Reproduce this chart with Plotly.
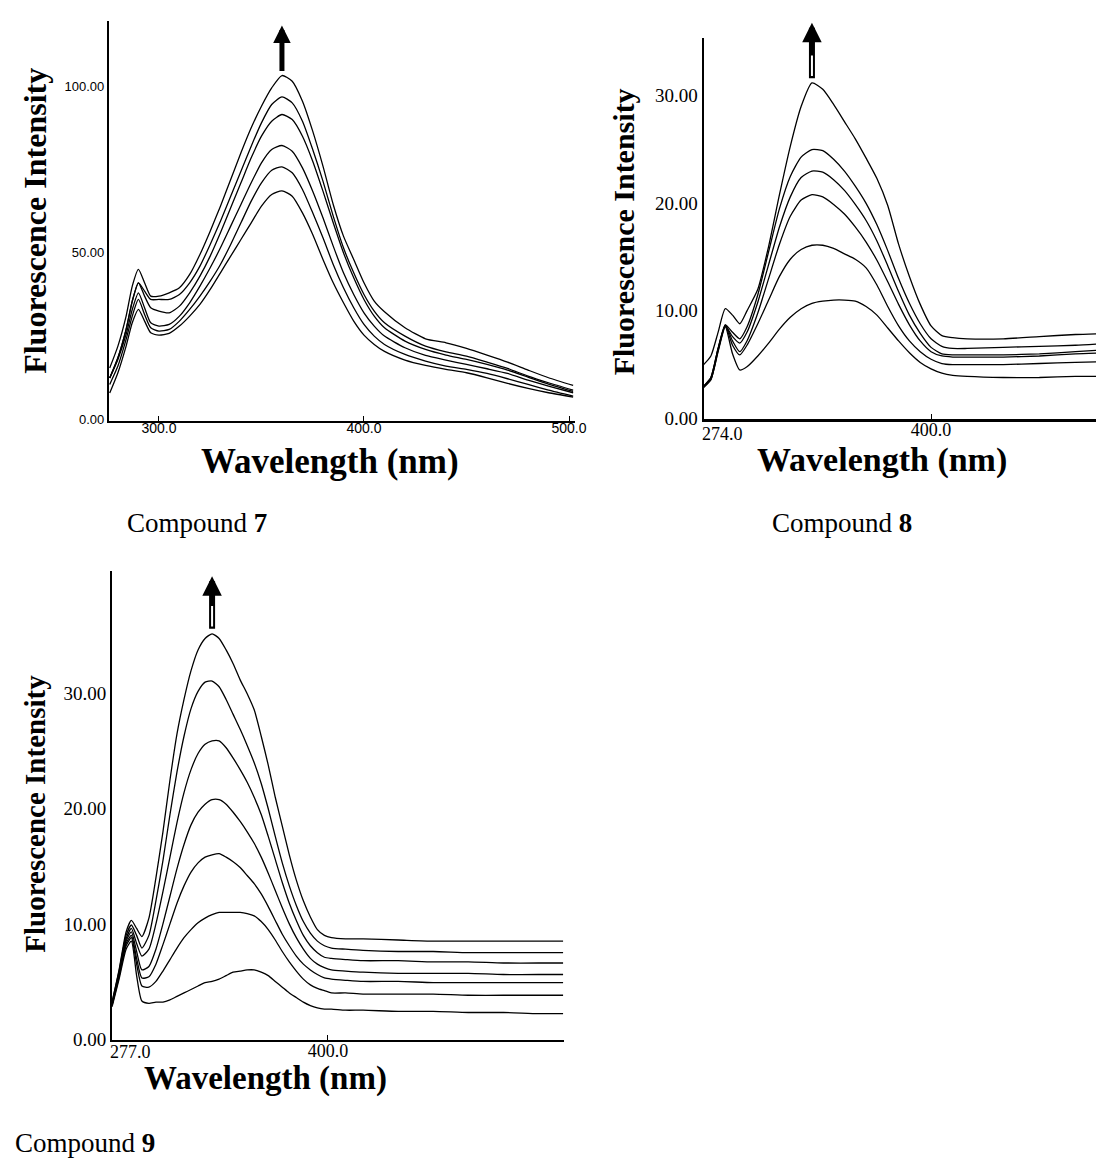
import plotly.graph_objects as go

W, H = 1104, 1158

# ---------------- data: Compound 7 ----------------
wl7 = [276, 280, 284, 287, 290, 293, 296, 300, 305, 310, 315, 320, 325, 330, 335, 340, 345, 350,
       355, 360, 365, 370, 375, 380, 385, 390, 395, 400, 405, 410, 420, 430, 440, 450, 460, 470,
       480, 490, 502]
c7_1 = [15.4, 22, 31, 40, 45, 41, 37, 37, 38, 39.5, 43.5, 49.5, 56.5, 64, 72, 80, 87.5, 94,
        99.5, 103.2, 101.5, 95.5, 86.5, 76, 64.5, 55, 48, 41, 35.5, 32.3, 27.5, 24.2, 23, 21.3,
        19.3, 17.2, 14.8, 12.5, 10.2]
c7_2 = [12.4, 18.5, 27, 35.5, 41, 38.5, 36, 36, 36, 37.5, 41, 46, 52.5, 59.5, 67, 74.5, 82, 89,
        94.5, 96.8, 95, 89.5, 81, 71.5, 61, 51.5, 44, 37.5, 32.5, 29, 25, 22, 20.3, 19, 17.2,
        15.3, 13, 11, 8.8]
c7_3 = [12.4, 18.5, 27, 35.5, 41, 37, 33.5, 32.5, 32, 34, 38, 43, 49, 56, 63.5, 71, 78.5, 85,
        89.5, 91.5, 90, 85, 77.5, 68.5, 59, 50, 42.5, 36, 31, 27.5, 23.5, 21, 19.3, 18, 16.5,
        14.8, 12.7, 10.6, 8.4]
c7_4 = [12.4, 18, 25.5, 33, 38, 33.5, 29, 28, 28.5, 31, 35, 40, 45.5, 51.5, 58, 64.5, 71, 77,
        81, 82.2, 80.5, 75.5, 68.5, 60.5, 52, 44, 37.5, 32, 28, 25, 21.5, 19.2, 17.8, 16.5, 15.2,
        13.8, 11.8, 10, 8.0]
c7_5 = [10.5, 16, 24, 31, 36, 31.5, 27.5, 26.5, 27, 29.5, 33, 37, 41.5, 46.5, 52.5, 59, 65.5,
        71, 74.8, 75.8, 74, 69, 62, 54.5, 46.5, 39.5, 33.5, 28.5, 25, 22.5, 19.5, 17.5, 16, 15,
        13.8, 12.2, 10.5, 8.8, 7.0]
c7_6 = [7.9, 14, 22, 29, 33, 29.5, 26, 25.3, 25.8, 28, 31, 34.5, 39, 44, 49, 54, 59, 64, 67.5,
        68.6, 67, 62, 55.5, 48, 41, 35, 29.5, 25.3, 22.5, 20.4, 17.8, 16.2, 15, 14, 12.5, 10.8,
        9.3, 8, 6.7]

# ---------------- data: Compound 8 ----------------
wl8 = [274, 278, 282, 286, 290, 294, 298, 304, 310, 316, 322, 328, 334, 340, 346, 352, 358, 364,
       370, 376, 382, 388, 394, 400, 406, 412, 420, 440, 460, 480, 500]
c8_1 = [5.0, 5.8, 8.0, 10.2, 9.6, 8.8, 10.0, 12.0, 16.0, 20.8, 25.3, 29.0, 31.2, 30.6, 29.2,
        27.6, 26.0, 24.2, 22.3, 19.8, 16.2, 13.2, 10.6, 8.6, 7.7, 7.5, 7.4, 7.4, 7.6, 7.8, 7.9]
c8_2 = [3.0, 3.8, 6.5, 8.7, 8.0, 7.4, 8.5, 11.5, 15.5, 19.5, 22.5, 24.3, 25.0, 24.9, 24.1, 23.0,
        21.6, 20.0, 18.0, 15.6, 13.0, 10.7, 8.8, 7.4, 6.7, 6.5, 6.5, 6.6, 6.7, 6.8, 7.0]
c8_3 = [2.9, 3.7, 6.4, 8.6, 7.6, 7.0, 8.0, 10.8, 14.3, 17.8, 20.6, 22.4, 23.0, 22.9, 22.2, 21.2,
        19.9, 18.4, 16.5, 14.2, 11.8, 9.6, 7.9, 6.6, 6.0, 5.9, 5.9, 5.9, 6.0, 6.2, 6.4]
c8_4 = [3.0, 3.8, 6.5, 8.7, 7.2, 6.2, 7.2, 9.8, 13.0, 16.2, 18.8, 20.3, 20.8, 20.6, 19.9, 19.0,
        17.8, 16.4, 14.7, 12.7, 10.6, 8.7, 7.2, 6.2, 5.8, 5.7, 5.7, 5.7, 5.8, 6.0, 6.1]
c8_5 = [2.9, 3.6, 6.3, 8.6, 6.8, 5.9, 6.8, 8.8, 11.0, 13.2, 14.8, 15.7, 16.1, 16.1, 15.8, 15.3,
        14.8, 14.0, 12.4, 10.4, 8.6, 7.2, 6.2, 5.5, 5.1, 5.0, 5.0, 5.0, 5.1, 5.2, 5.3]
c8_6 = [2.9, 3.6, 6.2, 8.5, 6.0, 4.5, 4.8, 5.8, 7.0, 8.3, 9.4, 10.2, 10.7, 10.9, 11.0, 11.0,
        10.9, 10.4, 9.6, 8.4, 7.2, 6.1, 5.2, 4.6, 4.2, 4.0, 3.9, 3.8, 3.8, 3.9, 3.9]

# ---------------- data: Compound 9 ----------------
wl9 = [277, 281, 285, 288, 291, 294, 298, 302, 306, 310, 314, 318, 322, 326, 330, 334, 338, 342,
       346, 350, 354, 358, 362, 366, 370, 374, 378, 382, 386, 390, 394, 398, 402, 410, 420, 440,
       460, 480, 500, 520, 534]
c9_1 = [3.2, 6.0, 9.3, 10.3, 9.6, 8.9, 10.5, 14.0, 18.0, 22.5, 26.5, 29.5, 32.0, 33.8, 34.8, 35.2,
        34.8, 33.8, 32.6, 31.2, 30.0, 28.6, 26.3, 23.8, 21.0, 18.5, 16.0, 13.8, 12.0, 10.6, 9.5,
        9.0, 8.8, 8.7, 8.7, 8.6, 8.5, 8.5, 8.5, 8.5, 8.5]
c9_2 = [3.2, 5.9, 9.0, 9.9, 9.0, 7.9, 9.0, 12.0, 15.5, 19.5, 23.2, 26.3, 28.7, 30.2, 31.0, 31.1,
        30.6, 29.5, 28.2, 26.9, 25.5, 24.0, 22.2, 20.0, 17.6, 15.3, 13.3, 11.6, 10.2, 9.2, 8.5,
        8.1, 7.9, 7.8, 7.7, 7.6, 7.6, 7.5, 7.5, 7.5, 7.5]
c9_3 = [3.0, 5.7, 8.7, 9.6, 8.3, 7.2, 7.8, 10.0, 12.8, 15.8, 18.8, 21.4, 23.4, 24.8, 25.6, 25.9,
        25.9, 25.3, 24.4, 23.4, 22.3, 21.0, 19.5, 17.6, 15.6, 13.6, 11.8, 10.3, 9.0, 8.1, 7.5,
        7.1, 7.0, 6.9, 6.8, 6.8, 6.7, 6.7, 6.6, 6.6, 6.6]
c9_4 = [3.0, 5.6, 8.5, 9.3, 7.6, 6.0, 6.3, 7.8, 10.0, 12.4, 14.8, 16.9, 18.6, 19.7, 20.4, 20.8,
        20.8, 20.4, 19.7, 18.9, 18.0, 17.0, 15.8, 14.4, 12.9, 11.4, 10.0, 8.8, 7.8, 7.0, 6.5,
        6.2, 6.0, 5.9, 5.8, 5.7, 5.7, 5.7, 5.6, 5.6, 5.6]
c9_5 = [3.0, 5.5, 8.3, 9.0, 7.0, 5.3, 5.4, 6.5, 8.2, 10.0, 11.8, 13.3, 14.5, 15.3, 15.8, 16.0,
        16.1, 15.8, 15.4, 14.9, 14.2, 13.5, 12.6, 11.5, 10.3, 9.1, 8.1, 7.2, 6.5, 6.0, 5.6, 5.3,
        5.2, 5.1, 5.0, 5.0, 4.9, 4.9, 4.9, 4.9, 4.9]
c9_6 = [2.9, 5.4, 8.1, 8.8, 6.5, 4.6, 4.5, 5.0, 5.9, 6.9, 7.9, 8.8, 9.5, 10.1, 10.5, 10.8, 11.0,
        11.0, 11.0, 11.0, 10.9, 10.7, 10.2, 9.5, 8.6, 7.6, 6.7, 5.9, 5.2, 4.7, 4.4, 4.2, 4.0, 4.0,
        3.9, 3.9, 3.9, 3.8, 3.8, 3.8, 3.8]
c9_7 = [2.8, 5.2, 7.8, 8.5, 5.5, 3.3, 3.1, 3.2, 3.2, 3.4, 3.7, 4.0, 4.3, 4.6, 4.9, 5.0, 5.2, 5.5,
        5.8, 5.9, 6.0, 6.0, 5.8, 5.5, 5.0, 4.5, 4.0, 3.6, 3.2, 2.9, 2.7, 2.6, 2.6, 2.5, 2.5, 2.4,
        2.4, 2.3, 2.3, 2.2, 2.2]

# ---------------- ticks / labels ----------------
x7_ticks = [300, 400, 500]
y7_ticks = [0, 50, 100]
x8_ticks = [274, 400]
y8_ticks = [0, 10, 20, 30]
x9_ticks = [277, 400]
y9_ticks = [0, 10, 20, 30]
x_title = "Wavelength (nm)"
y_title = "Fluorescence Intensity"
compound_labels = ["7", "8", "9"]

SERIF = "Liberation Serif, Times New Roman, serif"
SANS = "Liberation Sans, Arial, sans-serif"

# layout geometry (pixels)
panels = [
    dict(key="", xdom=(102, 573), ydom=(13, 416.5), xr=(275.6, 502.8), yr=(-0.45, 119.6),
         wl=wl7, series=[c7_1, c7_2, c7_3, c7_4, c7_5, c7_6], xt=x7_ticks, yt=y7_ticks,
         xfont=dict(family=SANS, size=14, color="black"),
         yfont=dict(family=SANS, size=13, color="black"),
         first_label_at_axis=False, label_dy=13,
         ytitle=(27, 215, 32), xtitle=(326, 457, 35), comp=(191, 519),
         arrow=dict(up=15.0, length=47, width=5, size=0.7, hollow=False)),
    dict(key="2", xdom=(703.3, 1104), ydom=(30, 415), xr=(274, 493.6), yr=(-0.1, 35.4),
         wl=wl8, series=[c8_1, c8_2, c8_3, c8_4, c8_5, c8_6], xt=x8_ticks, yt=y8_ticks,
         xfont=dict(family=SERIF, size=18, color="black"),
         yfont=dict(family=SERIF, size=19, color="black"),
         first_label_at_axis=True, label_dy=15,
         ytitle=(622, 226, 30), xtitle=(884, 456, 34), comp=(843, 519),
         arrow=dict(up=5.6, length=57, width=6, size=0.65, hollow=True)),
    dict(key="3", xdom=(105.2, 562.6), ydom=(568, 1041), xr=(277, 534.8), yr=(-0.09, 40.65),
         wl=wl9, series=[c9_1, c9_2, c9_3, c9_4, c9_5, c9_6, c9_7], xt=x9_ticks, yt=y9_ticks,
         xfont=dict(family=SERIF, size=18, color="black"),
         yfont=dict(family=SERIF, size=19, color="black"),
         first_label_at_axis=True, label_dy=12,
         ytitle=(27, 813, 29), xtitle=(260, 1080, 33), comp=(78, 1145),
         arrow=dict(up=5.0, length=54, width=6, size=0.65, hollow=True)),
]

fig = go.Figure()
annotations = []
layout_axes = {}

for i, p in enumerate(panels):
    k = p["key"]
    xa, ya = "x" + k, "y" + k
    for s in p["series"]:
        fig.add_trace(go.Scatter(x=p["wl"], y=s, mode="lines", xaxis=xa, yaxis=ya,
                                 line=dict(color="black", width=1.3, shape="spline", smoothing=0.6),
                                 showlegend=False, hoverinfo="skip"))
    xd = [p["xdom"][0] / W, p["xdom"][1] / W]
    yd = [1 - p["ydom"][1] / H, 1 - p["ydom"][0] / H]
    xt_text = ["%.1f" % v for v in p["xt"]]
    if p["first_label_at_axis"]:
        # first x label sits just right of the y axis, as in the reference
        annotations.append(dict(text=xt_text[0], x=p["xt"][0], xref=xa, yref="paper",
                                y=1 - (p["ydom"][1] + p["label_dy"]) / H, xanchor="left",
                                yanchor="middle", xshift=-4, showarrow=False, font=p["xfont"]))
        xt_text[0] = ""
    layout_axes["xaxis" + k] = dict(
        domain=xd, range=list(p["xr"]), anchor=ya, showline=True, linecolor="black",
        linewidth=2.2, showgrid=False, zeroline=False, ticks="inside", ticklen=5,
        tickwidth=1, tickcolor="black", tickvals=p["xt"], ticklabelstandoff=-7,
        ticktext=xt_text, tickfont=p["xfont"], fixedrange=True)
    layout_axes["yaxis" + k] = dict(
        domain=yd, range=list(p["yr"]), anchor=xa, showline=True, linecolor="black",
        linewidth=2, showgrid=False, zeroline=False, ticks="", tickvals=p["yt"],
        ticktext=["%.2f" % v for v in p["yt"]], tickfont=p["yfont"], fixedrange=True)

    # axis titles
    tx, ty, ts = p["ytitle"]
    annotations.append(dict(text=y_title, x=tx / W, y=1 - ty / H, xref="paper", yref="paper",
                            showarrow=False, textangle=-90, xanchor="center", yanchor="middle",
                            font=dict(family=SERIF, size=ts, color="black", weight="bold")))
    tx, ty, ts = p["xtitle"]
    annotations.append(dict(text=x_title, x=tx / W, y=1 - ty / H, xref="paper", yref="paper",
                            showarrow=False, xanchor="center", yanchor="middle",
                            font=dict(family=SERIF, size=ts, color="black", weight="bold")))
    cx, cy = p["comp"]
    annotations.append(dict(text="Compound <b>%s</b>" % compound_labels[i], x=cx / W, y=1 - cy / H,
                            xref="paper", yref="paper", showarrow=False, xanchor="center",
                            yanchor="middle", font=dict(family=SERIF, size=27, color="black")))

    # arrow above the highest spectrum peak
    top = p["series"][0]
    imax = max(range(len(top)), key=lambda j: top[j])
    peak_x, peak_y = p["wl"][imax], top[imax]
    tip_val = peak_y + p["arrow"]["up"]
    y0, y1 = p["yr"]
    frac = (tip_val - y0) / (y1 - y0)
    tip_px = p["ydom"][1] - frac * (p["ydom"][1] - p["ydom"][0])
    a = p["arrow"]
    annotations.append(dict(text="", x=peak_x, y=1 - tip_px / H, xref=xa, yref="paper",
                            ax=0, ay=a["length"], axref="pixel", ayref="pixel", showarrow=True,
                            arrowhead=2, arrowsize=a["size"], arrowwidth=a["width"],
                            arrowcolor="black", standoff=0, startstandoff=0))
    if a["hollow"]:
        annotations.append(dict(text="", x=peak_x, y=1 - (tip_px + a["length"] - 24) / H,
                                xref=xa, yref="paper", ax=0, ay=22, axref="pixel", ayref="pixel",
                                showarrow=True, arrowhead=0, arrowwidth=2, arrowcolor="white",
                                standoff=0, startstandoff=0))

fig.update_layout(
    width=W, height=H, margin=dict(l=0, r=0, t=0, b=0),
    paper_bgcolor="white", plot_bgcolor="white",
    annotations=annotations, showlegend=False,
    **layout_axes,
)

fig.write_html("out.html", config={"displayModeBar": False, "staticPlot": True})
